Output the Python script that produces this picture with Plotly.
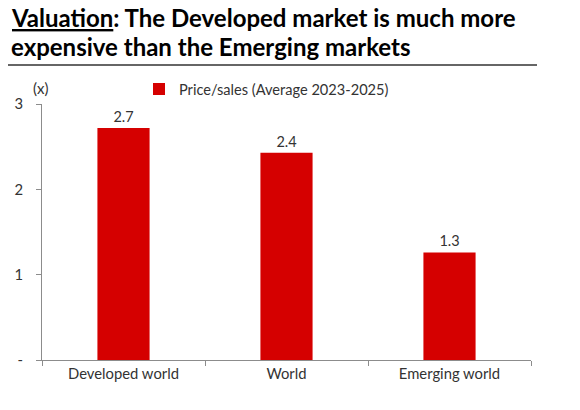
import plotly.graph_objects as go

categories = ["Developed world", "World", "Emerging world"]
price_sales = [2.72, 2.43, 1.26]
value_labels = ["2.7", "2.4", "1.3"]
series_name = "Price/sales (Average 2023-2025)"
y_tick_vals = [0, 1, 2, 3]
y_tick_text = ["-", "1", "2", "3"]

FONT = "Lato"
TXT = "#333333"
RED = "#D50000"

# the page body adds an 8px offset; work in screenshot pixels and subtract it
OFF = 8
W, H = 580 - OFF, 410 - OFF
L, R, T, B = 42 - OFF, W - (531 - OFF), 104 - OFF, H - (360 - OFF)
PW = W - L - R
PH = H - T - B

def px(x):
    return (x - OFF - L) / PW

def py(y):
    return (H - B - (y - OFF)) / PH

fig = go.Figure()
fig.add_trace(go.Bar(
    x=categories, y=price_sales, name=series_name,
    marker=dict(color=RED, line=dict(width=0)),
    width=0.32,
    text=value_labels, textposition="outside",
    textfont=dict(family=FONT, size=14.5, color=TXT),
    cliponaxis=False,
))

fig.update_layout(
    width=W, height=H,
    margin=dict(l=L, r=R, t=T, b=B, pad=0, autoexpand=False),
    paper_bgcolor="white", plot_bgcolor="white",
    font=dict(family=FONT, size=14, color=TXT),
    showlegend=True,
    legend=dict(
        orientation="h", xref="container", yref="container",
        x=(139 - OFF) / W, y=1 - (89 - OFF) / H, xanchor="left", yanchor="middle",
        font=dict(family=FONT, size=14.6, color=TXT),
        bgcolor="rgba(0,0,0,0)", borderwidth=0,
    ),
    xaxis=dict(
        showline=True, linecolor="#8c8c8c", linewidth=1,
        ticks="outside", ticklen=5, tickcolor="#8c8c8c",
        tickson="boundaries", showgrid=False, automargin=False,
        tickfont=dict(family=FONT, size=14.8, color=TXT),
    ),
    yaxis=dict(
        range=[0, 3], showline=True, linecolor="#8c8c8c", linewidth=1,
        ticks="outside", ticklen=5, tickcolor="#8c8c8c",
        tickvals=y_tick_vals, ticktext=y_tick_text,
        showgrid=False, zeroline=False, automargin=False,
        ticklabelstandoff=10,
        tickfont=dict(family=FONT, size=14.8, color=TXT),
    ),
)

fig.add_annotation(
    text="<b><u>Valuation</u>: The Developed market is much more</b>",
    xref="paper", yref="paper", x=px(9), y=py(34), xanchor="left", yanchor="bottom",
    showarrow=False, font=dict(family=FONT, size=24, color="black"),
)
fig.add_annotation(
    text="<b>expensive than the Emerging markets</b>",
    xref="paper", yref="paper", x=px(9), y=py(63), xanchor="left", yanchor="bottom",
    showarrow=False, font=dict(family=FONT, size=24, color="black"),
)
fig.add_shape(
    type="line", xref="paper", yref="paper",
    x0=px(4), x1=px(537), y0=py(65), y1=py(65),
    line=dict(color="#333333", width=1.3),
)
fig.add_annotation(
    text="(x)", xref="paper", yref="paper", x=px(40), y=py(88),
    xanchor="center", yanchor="middle", showarrow=False,
    font=dict(family=FONT, size=15, color=TXT),
)

fig.write_html("out.html")
